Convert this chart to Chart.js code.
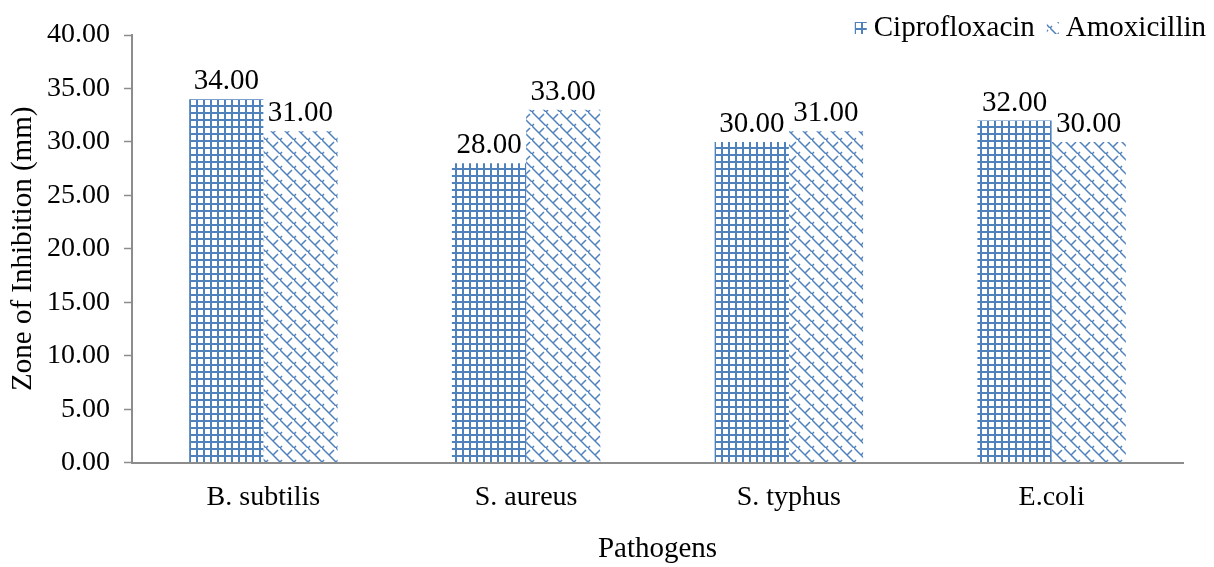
<!DOCTYPE html>
<html>
<head>
<meta charset="utf-8">
<script src="https://cdn.jsdelivr.net/npm/chart.js@4"></script>
<style>
  html, body { margin: 0; padding: 0; background: #fff; }
  #wrap { width: 1214px; height: 567px; }
</style>
</head>
<body>
<div id="wrap"><canvas id="chart" width="1214" height="567"></canvas></div>
<script>
const pathogens = ['B. subtilis', 'S. aureus', 'S. typhus', 'E.coli'];
const ciprofloxacin = [34, 28, 30, 32];
const amoxicillin = [31, 33, 31, 30];

const blue = '#4f81bd';
const font = 'Liberation Serif, Times New Roman, serif';

// grid hatch for Ciprofloxacin
function gridPattern() {
  const c = document.createElement('canvas');
  c.width = 7; c.height = 7;
  const g = c.getContext('2d');
  g.fillStyle = '#fff';
  g.fillRect(0, 0, 7, 7);
  g.fillStyle = blue;
  g.fillRect(0, 0, 7, 2);
  g.fillRect(0, 0, 2, 7);
  return g.createPattern(c, 'repeat');
}

// zigzag diagonal hatch for Amoxicillin
function zigzagPattern() {
  const s = 14;
  const c = document.createElement('canvas');
  c.width = s; c.height = s;
  const g = c.getContext('2d');
  g.fillStyle = '#fff';
  g.fillRect(0, 0, s, s);
  g.strokeStyle = blue;
  g.lineWidth = 1.5;
  g.beginPath();
  g.moveTo(-1, -1); g.lineTo(s + 1, s + 1);
  g.moveTo(s / 2, s / 2); g.lineTo(s / 2 + 5, s / 2 - 5);
  g.moveTo(0, s); g.lineTo(2, s - 2);
  g.stroke();
  return g.createPattern(c, 'repeat');
}

const valueLabels = {
  id: 'valueLabels',
  afterDatasetsDraw(chart) {
    const ctx = chart.ctx;
    ctx.save();
    ctx.font = '29px ' + font;
    ctx.fillStyle = '#000';
    ctx.textAlign = 'center';
    ctx.textBaseline = 'bottom';
    chart.data.datasets.forEach((ds, i) => {
      chart.getDatasetMeta(i).data.forEach((bar, j) => {
        ctx.fillText(ds.data[j].toFixed(2), bar.x, bar.y - 3);
      });
    });
    ctx.restore();
  }
};

// legend drawn in the top right corner, over the plot area like the original
const cornerLegend = {
  id: 'cornerLegend',
  afterDraw(chart) {
    const ctx = chart.ctx;
    ctx.save();
    ctx.font = '29px ' + font;
    ctx.textBaseline = 'middle';
    let x = 1206;
    const y = 28;
    const items = chart.data.datasets.slice().reverse();
    items.forEach(ds => {
      const w = ctx.measureText(ds.label).width;
      x -= w;
      ctx.fillStyle = '#000';
      ctx.fillText(ds.label, x, y);
      x -= 19;
      ctx.fillStyle = ds.backgroundColor;
      ctx.fillRect(x, y - 6, 12, 12);
      x -= 12;
    });
    ctx.restore();
  }
};

new Chart(document.getElementById('chart'), {
  type: 'bar',
  data: {
    labels: pathogens,
    datasets: [
      { label: 'Ciprofloxacin', data: ciprofloxacin, backgroundColor: gridPattern(), borderWidth: 0 },
      { label: 'Amoxicillin', data: amoxicillin, backgroundColor: zigzagPattern(), borderWidth: 0 }
    ]
  },
  options: {
    responsive: false,
    animation: false,
    devicePixelRatio: 1,
    layout: { padding: { left: 0, right: 31, top: 35, bottom: 0 } },
    datasets: { bar: { categoryPercentage: 0.565, barPercentage: 1.0 } },
    plugins: {
      legend: { display: false },
      tooltip: { enabled: false }
    },
    scales: {
      x: {
        grid: { display: false, drawTicks: false },
        border: { color: '#8c8c8c', width: 2 },
        ticks: { font: { family: font, size: 28 }, color: '#000', padding: 18 },
        title: { display: true, text: 'Pathogens', font: { family: font, size: 29 }, color: '#000', padding: { top: 0, bottom: 0 } }
      },
      y: {
        min: 0, max: 40,
        ticks: {
          stepSize: 5,
          font: { family: font, size: 28 },
          color: '#000',
          padding: 14,
          callback: v => v.toFixed(2)
        },
        grid: { drawOnChartArea: false, tickLength: 8, color: '#8c8c8c', tickWidth: 1.5 },
        border: { color: '#8c8c8c', width: 2 },
        title: { display: true, text: 'Zone of Inhibition (mm)', font: { family: font, size: 29 }, color: '#000', padding: { top: 6, bottom: 4 } },
        afterFit(scale) { scale.width = 132; }
      }
    }
  },
  plugins: [valueLabels, cornerLegend]
});
</script>
</body>
</html>
